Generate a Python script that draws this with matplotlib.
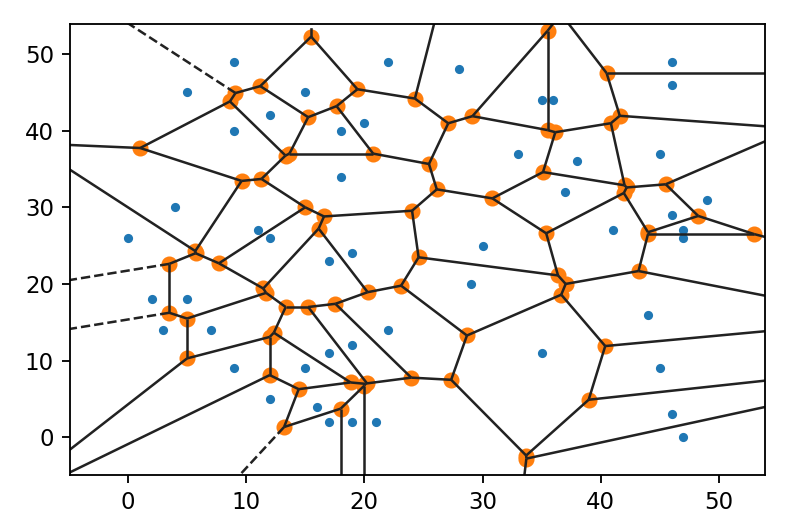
import itertools
import numpy as np
import matplotlib.pyplot as plt
from matplotlib.collections import LineCollection

xs = [0, 5, 9, 9, 12, 4, 11, 12, 2, 5, 3, 7, 9, 12, 15, 18, 20, 22, 28, 18,
      17, 19, 15, 17, 19, 22, 16, 17, 19, 21, 29, 30, 35, 35, 36, 33, 38, 37,
      46, 46, 45, 49, 46, 47, 47, 41, 44, 45, 46, 47]
ys = [26, 45, 49, 40, 42, 30, 27, 26, 18, 18, 14, 14, 9, 5, 45, 40, 41, 49, 48, 34,
      23, 24, 9, 11, 12, 14, 4, 2, 2, 2, 20, 25, 11, 44, 44, 37, 36, 32,
      49, 46, 37, 31, 29, 27, 26, 27, 16, 9, 3, 0]


def voronoi(pts):
    n = len(pts)
    tri = np.array(list(itertools.combinations(range(n), 3)))
    A, B, C = pts[tri[:, 0]], pts[tri[:, 1]], pts[tri[:, 2]]
    d = 2 * (A[:, 0] * (B[:, 1] - C[:, 1]) + B[:, 0] * (C[:, 1] - A[:, 1])
             + C[:, 0] * (A[:, 1] - B[:, 1]))
    keep = np.abs(d) > 1e-9
    tri, A, B, C, d = tri[keep], A[keep], B[keep], C[keep], d[keep]
    a2 = (A ** 2).sum(1)
    b2 = (B ** 2).sum(1)
    c2 = (C ** 2).sum(1)
    ux = (a2 * (B[:, 1] - C[:, 1]) + b2 * (C[:, 1] - A[:, 1]) + c2 * (A[:, 1] - B[:, 1])) / d
    uy = (a2 * (C[:, 0] - B[:, 0]) + b2 * (A[:, 0] - C[:, 0]) + c2 * (B[:, 0] - A[:, 0])) / d
    U = np.column_stack([ux, uy])
    r2 = ((A - U) ** 2).sum(1)
    dist2 = ((U[:, None, :] - pts[None, :, :]) ** 2).sum(2)
    tol = 1e-7 * np.maximum(1, r2)
    empty = np.all(dist2 >= (r2 - tol)[:, None], axis=1)

    groups = {}
    for t, u in zip(tri[empty], U[empty]):
        key = (round(u[0], 4), round(u[1], 4))
        groups.setdefault(key, set()).update(t.tolist())
    verts = np.array(list(groups.keys()))
    ridges = {}
    for vi, s in enumerate(groups.values()):
        for pair in itertools.combinations(sorted(s), 2):
            ridges.setdefault(pair, []).append(vi)
    return verts, ridges


def hull_edge(pts, i, j):
    e = pts[j] - pts[i]
    w = pts - pts[i]
    cr = e[0] * w[:, 1] - e[1] * w[:, 0]
    if not (np.all(cr >= -1e-9) or np.all(cr <= 1e-9)):
        return False
    t = (w @ e) / (e @ e)
    between = (np.abs(cr) < 1e-9) & (t > 1e-9) & (t < 1 - 1e-9)
    return not between.any()


points = np.column_stack([xs, ys]).astype(float)
vertices, ridges = voronoi(points)

center = points.mean(axis=0)
ptp_bound = np.ptp(points, axis=0)
finite_segments = []
infinite_segments = []
for (i, j), vl in ridges.items():
    if len(vl) == 2:
        finite_segments.append([vertices[vl[0]], vertices[vl[1]]])
    elif len(vl) == 1 and hull_edge(points, i, j):
        t = points[j] - points[i]
        t /= np.linalg.norm(t)
        nrm = np.array([-t[1], t[0]])
        midpoint = points[[i, j]].mean(axis=0)
        direction = np.sign(np.dot(midpoint - center, nrm)) * nrm
        aspect_factor = abs(ptp_bound.max() / ptp_bound.min())
        far_point = vertices[vl[0]] + direction * ptp_bound.max() * aspect_factor
        infinite_segments.append([vertices[vl[0]], far_point])

dpi = 165
fig = plt.figure(figsize=(812 / dpi, 528 / dpi), dpi=dpi)
ax = fig.add_axes([70 / 812, 53 / 528, 695 / 812, 451 / 528])
ax.plot(points[:, 0], points[:, 1], '.')
ax.plot(vertices[:, 0], vertices[:, 1], 'o')
ax.add_collection(LineCollection(finite_segments, colors='#222222', lw=1.1, linestyle='solid'))
ax.add_collection(LineCollection(infinite_segments, colors='#222222', lw=1.1, linestyle='dashed'))

margin = 0.1 * ptp_bound
ax.set_xlim(points[:, 0].min() - margin[0], points[:, 0].max() + margin[0])
ax.set_ylim(points[:, 1].min() - margin[1], points[:, 1].max() + margin[1])

fig.savefig('out.png', dpi=dpi)
